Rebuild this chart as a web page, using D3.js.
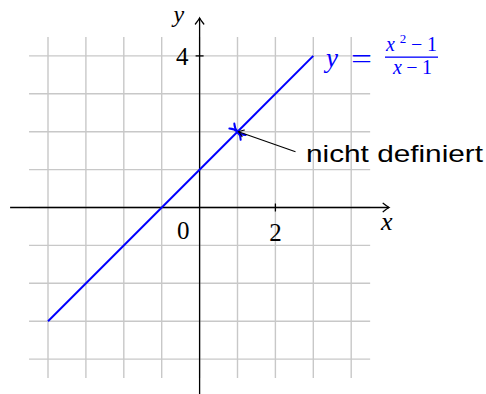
<!DOCTYPE html>
<html>
<head>
<meta charset="utf-8">
<script src="https://cdn.jsdelivr.net/npm/d3@7"></script>
<style>
  html, body { margin: 0; padding: 0; background: #fff; }
  svg { display: block; }
</style>
</head>
<body>
<script>
// Graph of y = (x^2 - 1)/(x - 1): a straight line with a gap at x = 1
const lineX = [-4, 1, 3];
const lineY = [-3, 2, 4];
const holeX = 1;
const holeY = 2;
const gridX = [-4, -3, -2, -1, 0, 1, 2, 3, 4];
const gridY = [-4, -3, -2, -1, 0, 1, 2, 3, 4];
const xTicks = [2];
const yTicks = [4];
const noteText = "nicht definiert";

const W = 486, H = 394;
const unit = 37.9, ox = 199.6, oy = 207.5;

const x = d3.scaleLinear().domain([-5, 5]).range([ox - 5 * unit, ox + 5 * unit]);
const y = d3.scaleLinear().domain([-5, 5]).range([oy + 5 * unit, oy - 5 * unit]);

const svg = d3.select("body").append("svg").attr("width", W).attr("height", H);

// help grid
const grid = svg.append("g").attr("stroke", "#c8c8c8").attr("stroke-width", 1.4);
grid.selectAll("line.v").data(gridX).join("line").attr("class", "v")
  .attr("x1", d => x(d)).attr("x2", d => x(d))
  .attr("y1", y(-4.5)).attr("y2", y(4.5));
grid.selectAll("line.h").data(gridY).join("line").attr("class", "h")
  .attr("y1", d => y(d)).attr("y2", d => y(d))
  .attr("x1", x(-4.5)).attr("x2", x(4.5));

// axes with arrow tips
const axes = svg.append("g").attr("stroke", "#000").attr("stroke-width", 1.3).attr("fill", "none");
axes.append("line").attr("x1", x(-5)).attr("x2", x(5)).attr("y1", y(0)).attr("y2", y(0));
axes.append("line").attr("x1", x(0)).attr("x2", x(0)).attr("y1", y(-5)).attr("y2", y(5));
function arrowTip(g, px, py, angle) {
  g.append("path")
    .attr("transform", `translate(${px},${py}) rotate(${angle})`)
    .attr("d", "M-6,-4.2 Q-2,-1 0,0 Q-2,1 -6,4.2")
    .attr("stroke-linecap", "round");
}
arrowTip(axes, x(5), y(0), 0);
arrowTip(axes, x(0), y(5), -90);

// ticks
axes.selectAll("line.xt").data(xTicks).join("line").attr("class", "xt")
  .attr("x1", d => x(d)).attr("x2", d => x(d)).attr("y1", y(0) - 4).attr("y2", y(0) + 4);
axes.selectAll("line.yt").data(yTicks).join("line").attr("class", "yt")
  .attr("y1", d => y(d)).attr("y2", d => y(d)).attr("x1", x(0) - 4).attr("x2", x(0) + 4);

const serif = "'Liberation Serif', serif";
const txt = svg.append("g").attr("font-family", serif).attr("fill", "#000");
txt.selectAll("text.xl").data(xTicks).join("text").attr("class", "xl")
  .attr("x", d => x(d)).attr("y", y(0) + 33).attr("text-anchor", "middle")
  .attr("font-size", 25).text(d => d);
txt.selectAll("text.yl").data(yTicks).join("text").attr("class", "yl")
  .attr("x", x(0) - 11).attr("y", d => y(d) + 9).attr("text-anchor", "end")
  .attr("font-size", 25).text(d => d);
txt.append("text").attr("x", x(0) - 10).attr("y", y(0) + 31).attr("text-anchor", "end")
  .attr("font-size", 25).text("0");
txt.append("text").attr("x", x(5) - 8).attr("y", y(0) + 22)
  .attr("font-size", 26).attr("font-style", "italic").text("x");
txt.append("text").attr("x", x(0) - 26).attr("y", y(5) + 4)
  .attr("font-size", 24).attr("font-style", "italic").text("y");

// the function graph
const pts = lineX.map((v, i) => [v, lineY[i]]);
svg.append("path").datum(pts)
  .attr("d", d3.line().x(d => x(d[0])).y(d => y(d[1])))
  .attr("fill", "none").attr("stroke", "#0000ff").attr("stroke-width", 2);

// gap marker at x = 1: ")(" brackets across the line
const ang = Math.atan2(y(lineY[2]) - y(lineY[0]), x(lineX[2]) - x(lineX[0])) * 180 / Math.PI;
const hole = svg.append("g")
  .attr("transform", `translate(${x(holeX)},${y(holeY)}) rotate(${ang})`)
  .attr("fill", "none").attr("stroke", "#0000ff").attr("stroke-width", 2).attr("stroke-linecap", "round");
hole.append("path").attr("d", "M3.5,-8 Q-3.5,0 3.5,8");
hole.append("path").attr("d", "M-3.5,-8 Q3.5,0 -3.5,8");

// annotation arrow
const ax1 = x(holeX) + 58, ay1 = y(holeY) + 20;
const ann = svg.append("g").attr("stroke", "#000").attr("stroke-width", 1.1).attr("fill", "none");
ann.append("line").attr("x1", ax1).attr("y1", ay1).attr("x2", x(holeX) + 1).attr("y2", y(holeY));
const aa = Math.atan2(y(holeY) - ay1, x(holeX) + 1 - ax1) * 180 / Math.PI;
ann.append("path")
  .attr("transform", `translate(${x(holeX) + 1},${y(holeY)}) rotate(${aa})`)
  .attr("d", "M-5,-3.5 Q-1.5,-0.8 0,0 Q-1.5,0.8 -5,3.5").attr("stroke-linecap", "round");
svg.append("text").attr("x", 306).attr("y", 162)
  .attr("font-family", "'Liberation Sans', 'DejaVu Sans', sans-serif").attr("font-size", 24)
  .attr("textLength", 177).attr("lengthAdjust", "spacingAndGlyphs")
  .attr("fill", "#000").text(noteText);

// function label
const lab = svg.append("g").attr("fill", "#0000ff").attr("font-family", serif);
lab.append("text").attr("x", 326).attr("y", 67).attr("font-size", 27).attr("font-style", "italic").text("y");
lab.append("text").attr("x", 351).attr("y", 68).attr("font-size", 28)
  .attr("textLength", 21).attr("lengthAdjust", "spacingAndGlyphs").text("=");
const num = lab.append("text").attr("x", 386).attr("y", 51).attr("font-size", 20)
  .attr("textLength", 51).attr("lengthAdjust", "spacing");
num.append("tspan").attr("font-style", "italic").text("x");
num.append("tspan").attr("font-size", 13).attr("dy", -8).text("2");
num.append("tspan").attr("dy", 8).text("\u2212");
num.append("tspan").text("1");
lab.append("rect").attr("x", 385).attr("y", 56.5).attr("width", 53).attr("height", 1.3);
const den = lab.append("text").attr("x", 393).attr("y", 74).attr("font-size", 20)
  .attr("textLength", 39).attr("lengthAdjust", "spacing");
den.append("tspan").attr("font-style", "italic").text("x");
den.append("tspan").text("\u2212");
den.append("tspan").text("1");
</script>
</body>
</html>
